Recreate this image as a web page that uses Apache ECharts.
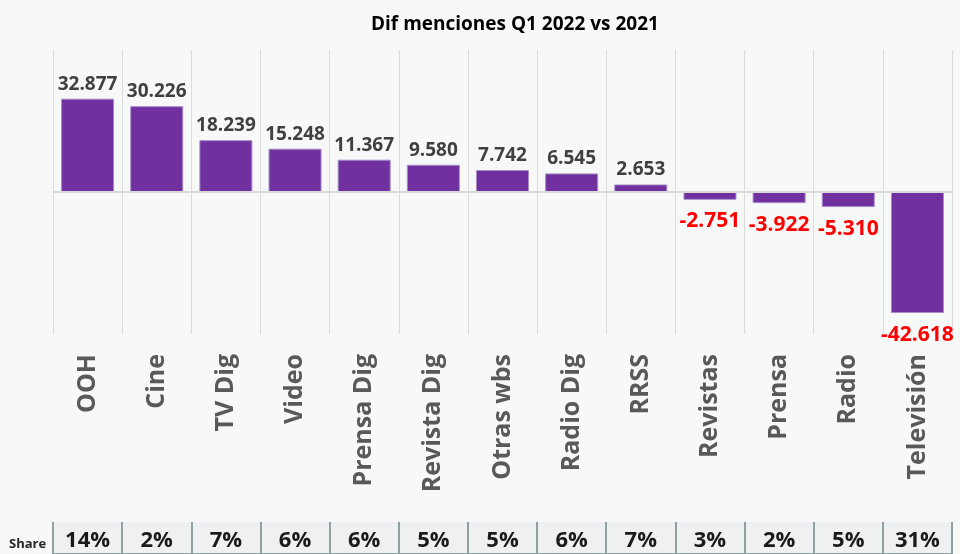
<!DOCTYPE html>
<html>
<head>
<meta charset="utf-8">
<script src="https://cdn.jsdelivr.net/npm/echarts@6/dist/echarts.min.js"></script>
<style>
  html, body { margin: 0; padding: 0; background: #f7f9f9; }
  #chart { width: 960px; height: 554px; }
</style>
</head>
<body>
<div id="chart"></div>
<script>
// categorias y datos
var categorias = ['OOH', 'Cine', 'TV Dig', 'Video', 'Prensa Dig', 'Revista Dig', 'Otras wbs', 'Radio Dig', 'RRSS', 'Revistas', 'Prensa', 'Radio', 'Televisión'];
var difMenciones = [32877, 30226, 18239, 15248, 11367, 9580, 7742, 6545, 2653, -2751, -3922, -5310, -42618];
var share = ['14%', '2%', '7%', '6%', '6%', '5%', '5%', '6%', '7%', '3%', '2%', '5%', '31%'];

function fmt(v) { // separador de miles con punto
  var s = String(Math.abs(v)).replace(/\B(?=(\d{3})+(?!\d))/g, '.');
  return (v < 0 ? '-' : '') + s;
}

var barData = difMenciones.map(function (v) {
  var neg = v < 0;
  return {
    value: v,
    label: {
      show: true,
      position: neg ? 'bottom' : 'top',
      distance: neg ? 11 : 5,
      color: neg ? '#ff0000' : '#404040',
      fontSize: neg ? 21 : 19,
      fontWeight: 'bold',
      fontFamily: 'Open Sans',
      formatter: function (p) { return fmt(p.value); }
    }
  };
});

var chart = echarts.init(document.getElementById('chart'));
var option = {
  backgroundColor: '#f7f9f9',
  animation: false,
  title: {
    text: 'Dif menciones Q1 2022 vs 2021',
    left: 366,
    top: 10,
    textStyle: { fontFamily: 'Open Sans', fontWeight: 'bold', fontSize: 19, color: '#000' }
  },
  graphic: [{
    type: 'text', left: 9, top: 538,
    style: { text: 'Share', font: 'bold 13px "Open Sans"', fill: '#262626' }
  }],
  grid: [
    { left: 53, right: 8, top: 50, bottom: 220 },
    { left: 53, right: 8, top: 522, bottom: -20, show: true, backgroundColor: '#eff0f2', borderWidth: 0 }
  ],
  xAxis: [{
    type: 'category',
    gridIndex: 0,
    data: categorias,
    position: 'bottom',
    axisLine: { show: false, onZero: false },
    axisTick: { show: false },
    splitLine: { show: true, lineStyle: { color: '#dcdcdc', width: 1 } },
    axisLabel: {
      rotate: 90, margin: 20, interval: 0,
      color: '#595959', fontSize: 25, fontWeight: 'bold', fontFamily: 'Open Sans'
    }
  }, {
    type: 'category',
    gridIndex: 1,
    data: share,
    position: 'top',
    axisLine: { show: true, lineStyle: { color: '#8fa0a0', width: 2 } },
    axisTick: { show: false },
    splitLine: { show: true, lineStyle: { color: '#8fa0a0', width: 2 } },
    axisLabel: {
      inside: true, margin: 8, interval: 0,
      color: '#1a1a1a', fontSize: 22, fontWeight: 'bold', fontFamily: 'Open Sans'
    }
  }],
  yAxis: [{
    type: 'value', gridIndex: 0, min: -50000, max: 50000, show: false
  }, {
    type: 'value', gridIndex: 1, min: 0, max: 1, show: false
  }],
  series: [{
    type: 'bar',
    xAxisIndex: 0,
    yAxisIndex: 0,
    data: barData,
    barWidth: 53,
    itemStyle: { color: '#7030a0', borderColor: '#a48bc6', borderWidth: 1 },
    markLine: {
      silent: true,
      symbol: 'none',
      label: { show: false },
      lineStyle: { color: '#d9d9d9', width: 2, type: 'solid' },
      data: [{ yAxis: 0 }]
    }
  }]
};
chart.setOption(option);
</script>
</body>
</html>
